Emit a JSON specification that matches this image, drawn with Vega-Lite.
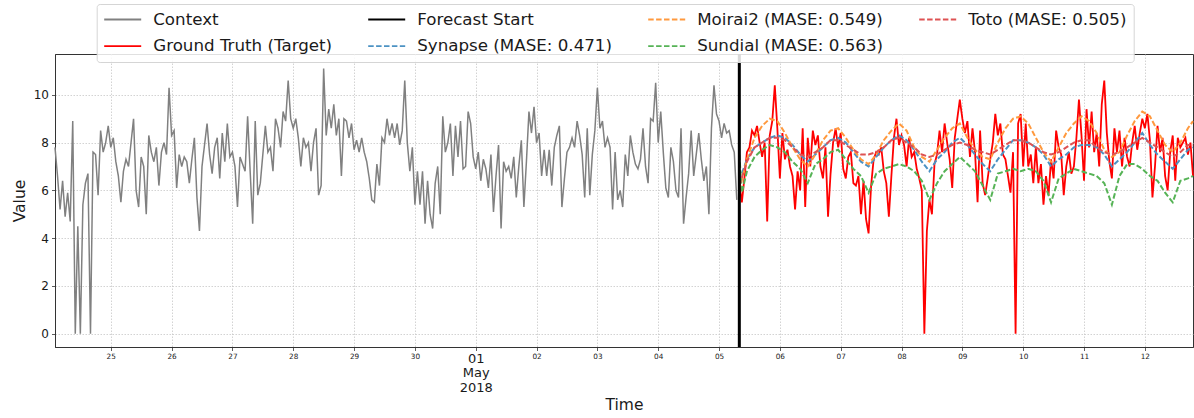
{
"$schema":"https://vega.github.io/schema/vega-lite/v6.json",
"width":1138,"height":293,
"autosize":{"type":"none"},
"padding":{"left":55,"top":54,"right":1,"bottom":71},
"config":{"font":"DejaVu Sans","view":{"stroke":"#333333","strokeWidth":1},
"axis":{"domainColor":"#333333","domainWidth":1,"tickColor":"#333333","tickWidth":0.8,"labelColor":"#1a1a1a","titleColor":"#1a1a1a","titleFontWeight":"normal","gridColor":"#c8c8c8","gridDash":[1.5,1.5],"gridWidth":0.8}},
"data":{"values":[
{"t":"2018-04-24T02:00","c":7.8},{"t":"2018-04-24T03:00","c":6.6},{"t":"2018-04-24T04:00","c":5.2},{"t":"2018-04-24T05:00","c":6.4},{"t":"2018-04-24T06:00","c":4.9},{"t":"2018-04-24T07:00","c":5.9},{"t":"2018-04-24T08:00","c":4.7},{"t":"2018-04-24T09:00","c":8.9},{"t":"2018-04-24T10:00","c":0},{"t":"2018-04-24T11:00","c":4.5},{"t":"2018-04-24T12:00","c":0},{"t":"2018-04-24T13:00","c":5.4},{"t":"2018-04-24T14:00","c":6.3},{"t":"2018-04-24T15:00","c":6.7},{"t":"2018-04-24T16:00","c":0},{"t":"2018-04-24T17:00","c":7.6},{"t":"2018-04-24T18:00","c":7.5},{"t":"2018-04-24T19:00","c":5.8},{"t":"2018-04-24T20:00","c":8.5},{"t":"2018-04-24T21:00","c":7.6},{"t":"2018-04-24T22:00","c":8.0},{"t":"2018-04-24T23:00","c":8.7},
{"t":"2018-04-25T00:00","c":7.8},{"t":"2018-04-25T01:00","c":8.2},{"t":"2018-04-25T02:00","c":7.2},{"t":"2018-04-25T03:00","c":6.6},{"t":"2018-04-25T04:00","c":5.5},{"t":"2018-04-25T05:00","c":6.8},{"t":"2018-04-25T06:00","c":7.3},{"t":"2018-04-25T07:00","c":7.0},{"t":"2018-04-25T08:00","c":8.0},{"t":"2018-04-25T09:00","c":9.0},{"t":"2018-04-25T10:00","c":6.0},{"t":"2018-04-25T11:00","c":5.3},{"t":"2018-04-25T12:00","c":7.4},{"t":"2018-04-25T13:00","c":7.0},{"t":"2018-04-25T14:00","c":5.0},{"t":"2018-04-25T15:00","c":8.3},{"t":"2018-04-25T16:00","c":7.6},{"t":"2018-04-25T17:00","c":7.2},{"t":"2018-04-25T18:00","c":7.8},{"t":"2018-04-25T19:00","c":6.2},{"t":"2018-04-25T20:00","c":7.6},{"t":"2018-04-25T21:00","c":8.0},{"t":"2018-04-25T22:00","c":7.5},{"t":"2018-04-25T23:00","c":10.3},
{"t":"2018-04-26T00:00","c":8.3},{"t":"2018-04-26T01:00","c":8.5},{"t":"2018-04-26T02:00","c":6.1},{"t":"2018-04-26T03:00","c":7.5},{"t":"2018-04-26T04:00","c":7.0},{"t":"2018-04-26T05:00","c":7.4},{"t":"2018-04-26T06:00","c":7.2},{"t":"2018-04-26T07:00","c":6.3},{"t":"2018-04-26T08:00","c":7.3},{"t":"2018-04-26T09:00","c":8.2},{"t":"2018-04-26T10:00","c":5.7},{"t":"2018-04-26T11:00","c":4.3},{"t":"2018-04-26T12:00","c":7.0},{"t":"2018-04-26T13:00","c":7.9},{"t":"2018-04-26T14:00","c":8.8},{"t":"2018-04-26T15:00","c":7.5},{"t":"2018-04-26T16:00","c":6.7},{"t":"2018-04-26T17:00","c":7.8},{"t":"2018-04-26T18:00","c":8.2},{"t":"2018-04-26T19:00","c":6.5},{"t":"2018-04-26T20:00","c":8.4},{"t":"2018-04-26T21:00","c":7.2},{"t":"2018-04-26T22:00","c":8.8},{"t":"2018-04-26T23:00","c":7.4},
{"t":"2018-04-27T00:00","c":7.6},{"t":"2018-04-27T01:00","c":7.0},{"t":"2018-04-27T02:00","c":5.3},{"t":"2018-04-27T03:00","c":7.4},{"t":"2018-04-27T04:00","c":7.1},{"t":"2018-04-27T05:00","c":6.8},{"t":"2018-04-27T06:00","c":9.1},{"t":"2018-04-27T07:00","c":6.8},{"t":"2018-04-27T08:00","c":4.6},{"t":"2018-04-27T09:00","c":8.9},{"t":"2018-04-27T10:00","c":5.8},{"t":"2018-04-27T11:00","c":6.3},{"t":"2018-04-27T12:00","c":7.5},{"t":"2018-04-27T13:00","c":8.7},{"t":"2018-04-27T14:00","c":7.6},{"t":"2018-04-27T15:00","c":7.8},{"t":"2018-04-27T16:00","c":6.8},{"t":"2018-04-27T17:00","c":9.0},{"t":"2018-04-27T18:00","c":8.6},{"t":"2018-04-27T19:00","c":7.8},{"t":"2018-04-27T20:00","c":9.3},{"t":"2018-04-27T21:00","c":8.9},{"t":"2018-04-27T22:00","c":10.6},{"t":"2018-04-27T23:00","c":9.0},
{"t":"2018-04-28T00:00","c":8.6},{"t":"2018-04-28T01:00","c":9.0},{"t":"2018-04-28T02:00","c":8.2},{"t":"2018-04-28T03:00","c":7.0},{"t":"2018-04-28T04:00","c":8.2},{"t":"2018-04-28T05:00","c":7.8},{"t":"2018-04-28T06:00","c":8.0},{"t":"2018-04-28T07:00","c":6.8},{"t":"2018-04-28T08:00","c":8.0},{"t":"2018-04-28T09:00","c":8.6},{"t":"2018-04-28T10:00","c":5.8},{"t":"2018-04-28T11:00","c":6.2},{"t":"2018-04-28T12:00","c":11.1},{"t":"2018-04-28T13:00","c":8.3},{"t":"2018-04-28T14:00","c":9.4},{"t":"2018-04-28T15:00","c":8.6},{"t":"2018-04-28T16:00","c":9.6},{"t":"2018-04-28T17:00","c":8.3},{"t":"2018-04-28T18:00","c":9.0},{"t":"2018-04-28T19:00","c":6.6},{"t":"2018-04-28T20:00","c":9.0},{"t":"2018-04-28T21:00","c":8.9},{"t":"2018-04-28T22:00","c":8.2},{"t":"2018-04-28T23:00","c":8.8},
{"t":"2018-04-29T00:00","c":7.7},{"t":"2018-04-29T01:00","c":8.1},{"t":"2018-04-29T02:00","c":7.6},{"t":"2018-04-29T03:00","c":8.2},{"t":"2018-04-29T04:00","c":7.6},{"t":"2018-04-29T05:00","c":7.2},{"t":"2018-04-29T06:00","c":6.5},{"t":"2018-04-29T07:00","c":5.6},{"t":"2018-04-29T08:00","c":5.5},{"t":"2018-04-29T09:00","c":7.1},{"t":"2018-04-29T10:00","c":6.2},{"t":"2018-04-29T11:00","c":8.2},{"t":"2018-04-29T12:00","c":8.0},{"t":"2018-04-29T13:00","c":9.0},{"t":"2018-04-29T14:00","c":8.3},{"t":"2018-04-29T15:00","c":8.8},{"t":"2018-04-29T16:00","c":8.2},{"t":"2018-04-29T17:00","c":8.8},{"t":"2018-04-29T18:00","c":7.9},{"t":"2018-04-29T19:00","c":8.5},{"t":"2018-04-29T20:00","c":10.6},{"t":"2018-04-29T21:00","c":8.0},{"t":"2018-04-29T22:00","c":6.8},{"t":"2018-04-29T23:00","c":7.8},
{"t":"2018-04-30T00:00","c":5.4},{"t":"2018-04-30T01:00","c":6.8},{"t":"2018-04-30T02:00","c":5.4},{"t":"2018-04-30T03:00","c":6.8},{"t":"2018-04-30T04:00","c":4.6},{"t":"2018-04-30T05:00","c":6.4},{"t":"2018-04-30T06:00","c":5.0},{"t":"2018-04-30T07:00","c":4.4},{"t":"2018-04-30T08:00","c":6.3},{"t":"2018-04-30T09:00","c":7.0},{"t":"2018-04-30T10:00","c":5.0},{"t":"2018-04-30T11:00","c":9.1},{"t":"2018-04-30T12:00","c":7.6},{"t":"2018-04-30T13:00","c":8.0},{"t":"2018-04-30T14:00","c":8.8},{"t":"2018-04-30T15:00","c":6.6},{"t":"2018-04-30T16:00","c":8.7},{"t":"2018-04-30T17:00","c":7.4},{"t":"2018-04-30T18:00","c":8.9},{"t":"2018-04-30T19:00","c":6.9},{"t":"2018-04-30T20:00","c":7.0},{"t":"2018-04-30T21:00","c":9.3},{"t":"2018-04-30T22:00","c":8.8},{"t":"2018-04-30T23:00","c":7.4},
{"t":"2018-05-01T00:00","c":6.9},{"t":"2018-05-01T01:00","c":7.6},{"t":"2018-05-01T02:00","c":6.4},{"t":"2018-05-01T03:00","c":7.3},{"t":"2018-05-01T04:00","c":6.9},{"t":"2018-05-01T05:00","c":6.1},{"t":"2018-05-01T06:00","c":7.5},{"t":"2018-05-01T07:00","c":5.1},{"t":"2018-05-01T08:00","c":6.6},{"t":"2018-05-01T09:00","c":7.9},{"t":"2018-05-01T10:00","c":4.4},{"t":"2018-05-01T11:00","c":7.2},{"t":"2018-05-01T12:00","c":6.8},{"t":"2018-05-01T13:00","c":7.0},{"t":"2018-05-01T14:00","c":6.5},{"t":"2018-05-01T15:00","c":7.4},{"t":"2018-05-01T16:00","c":5.7},{"t":"2018-05-01T17:00","c":7.0},{"t":"2018-05-01T18:00","c":8.1},{"t":"2018-05-01T19:00","c":5.3},{"t":"2018-05-01T20:00","c":7.2},{"t":"2018-05-01T21:00","c":9.3},{"t":"2018-05-01T22:00","c":8.4},{"t":"2018-05-01T23:00","c":9.5},
{"t":"2018-05-02T00:00","c":8.0},{"t":"2018-05-02T01:00","c":8.4},{"t":"2018-05-02T02:00","c":6.6},{"t":"2018-05-02T03:00","c":7.7},{"t":"2018-05-02T04:00","c":6.6},{"t":"2018-05-02T05:00","c":7.7},{"t":"2018-05-02T06:00","c":6.2},{"t":"2018-05-02T07:00","c":7.8},{"t":"2018-05-02T08:00","c":8.3},{"t":"2018-05-02T09:00","c":8.7},{"t":"2018-05-02T10:00","c":5.3},{"t":"2018-05-02T11:00","c":6.5},{"t":"2018-05-02T12:00","c":7.6},{"t":"2018-05-02T13:00","c":7.8},{"t":"2018-05-02T14:00","c":8.2},{"t":"2018-05-02T15:00","c":7.8},{"t":"2018-05-02T16:00","c":8.9},{"t":"2018-05-02T17:00","c":8.3},{"t":"2018-05-02T18:00","c":7.5},{"t":"2018-05-02T19:00","c":5.7},{"t":"2018-05-02T20:00","c":8.6},{"t":"2018-05-02T21:00","c":5.8},{"t":"2018-05-02T22:00","c":7.5},{"t":"2018-05-02T23:00","c":8.5},
{"t":"2018-05-03T00:00","c":10.3},{"t":"2018-05-03T01:00","c":8.6},{"t":"2018-05-03T02:00","c":8.9},{"t":"2018-05-03T03:00","c":7.8},{"t":"2018-05-03T04:00","c":8.2},{"t":"2018-05-03T05:00","c":7.8},{"t":"2018-05-03T06:00","c":5.2},{"t":"2018-05-03T07:00","c":7.6},{"t":"2018-05-03T08:00","c":5.6},{"t":"2018-05-03T09:00","c":6.0},{"t":"2018-05-03T10:00","c":5.3},{"t":"2018-05-03T11:00","c":7.5},{"t":"2018-05-03T12:00","c":6.6},{"t":"2018-05-03T13:00","c":8.3},{"t":"2018-05-03T14:00","c":7.6},{"t":"2018-05-03T15:00","c":7.1},{"t":"2018-05-03T16:00","c":6.9},{"t":"2018-05-03T17:00","c":7.3},{"t":"2018-05-03T18:00","c":8.6},{"t":"2018-05-03T19:00","c":7.0},{"t":"2018-05-03T20:00","c":6.3},{"t":"2018-05-03T21:00","c":9.0},{"t":"2018-05-03T22:00","c":8.9},{"t":"2018-05-03T23:00","c":10.5},
{"t":"2018-05-04T00:00","c":8.0},{"t":"2018-05-04T01:00","c":9.3},{"t":"2018-05-04T02:00","c":7.6},{"t":"2018-05-04T03:00","c":6.1},{"t":"2018-05-04T04:00","c":5.7},{"t":"2018-05-04T05:00","c":7.8},{"t":"2018-05-04T06:00","c":7.2},{"t":"2018-05-04T07:00","c":6.0},{"t":"2018-05-04T08:00","c":5.7},{"t":"2018-05-04T09:00","c":8.6},{"t":"2018-05-04T10:00","c":4.6},{"t":"2018-05-04T11:00","c":5.7},{"t":"2018-05-04T12:00","c":6.7},{"t":"2018-05-04T13:00","c":8.5},{"t":"2018-05-04T14:00","c":6.6},{"t":"2018-05-04T15:00","c":7.5},{"t":"2018-05-04T16:00","c":8.4},{"t":"2018-05-04T17:00","c":7.3},{"t":"2018-05-04T18:00","c":6.4},{"t":"2018-05-04T19:00","c":7.0},{"t":"2018-05-04T20:00","c":5.0},{"t":"2018-05-04T21:00","c":8.6},{"t":"2018-05-04T22:00","c":10.4},{"t":"2018-05-04T23:00","c":9.2},
{"t":"2018-05-05T00:00","c":8.9},{"t":"2018-05-05T01:00","c":8.2},{"t":"2018-05-05T02:00","c":8.8},{"t":"2018-05-05T03:00","c":8.4},{"t":"2018-05-05T04:00","c":8.5},{"t":"2018-05-05T05:00","c":7.9},{"t":"2018-05-05T06:00","c":7.6},{"t":"2018-05-05T07:00","c":5.6},
{"t":"2018-05-05T08:00","g":6.3,"s":6.4,"m":6.0,"d":7.5,"o":6.2},{"t":"2018-05-05T09:00","g":5.5,"d":5.9},{"t":"2018-05-05T10:00","g":6.5},{"t":"2018-05-05T11:00","g":7.6,"s":7.3,"m":7.3,"d":6.8,"o":7.2},{"t":"2018-05-05T12:00","g":7.8},{"t":"2018-05-05T13:00","g":8.5},{"t":"2018-05-05T14:00","g":8.3,"s":7.8,"m":8.2,"d":7.4,"o":7.8},{"t":"2018-05-05T15:00","g":8.7},{"t":"2018-05-05T16:00","g":8.0},{"t":"2018-05-05T17:00","g":7.4,"s":8.0,"m":8.7,"d":7.7,"o":8.0},{"t":"2018-05-05T18:00","g":8.0},{"t":"2018-05-05T19:00","g":4.7},{"t":"2018-05-05T20:00","g":8.3,"s":8.2,"m":9.0,"d":7.9,"o":8.2},{"t":"2018-05-05T21:00","g":8.9},{"t":"2018-05-05T22:00","g":10.4},{"t":"2018-05-05T23:00","g":8.6,"s":8.3,"m":8.9,"d":7.8,"o":8.2},
{"t":"2018-05-06T00:00","g":6.5},{"t":"2018-05-06T01:00","g":8.4},{"t":"2018-05-06T02:00","g":7.3,"s":8.2,"m":8.4,"d":7.6,"o":8.1},{"t":"2018-05-06T03:00","g":7.7},{"t":"2018-05-06T04:00","g":7.0},{"t":"2018-05-06T05:00","g":6.6,"s":7.9,"m":7.8,"d":7.2,"o":7.8},{"t":"2018-05-06T06:00","g":5.2},{"t":"2018-05-06T07:00","g":6.8},{"t":"2018-05-06T08:00","g":6.0,"s":7.5,"m":7.3,"d":6.9,"o":7.5},{"t":"2018-05-06T09:00","g":8.6},{"t":"2018-05-06T10:00","g":5.3},{"t":"2018-05-06T11:00","g":8.2,"s":7.2,"m":7.0,"d":6.3,"o":7.4},{"t":"2018-05-06T12:00","g":7.0},{"t":"2018-05-06T13:00","g":8.5},{"t":"2018-05-06T14:00","g":7.9,"s":7.5,"m":7.5,"d":7.1,"o":7.6},{"t":"2018-05-06T15:00","g":8.3},{"t":"2018-05-06T16:00","g":7.0},{"t":"2018-05-06T17:00","g":6.5,"s":7.8,"m":8.1,"d":7.3,"o":7.8},{"t":"2018-05-06T18:00","g":7.8},{"t":"2018-05-06T19:00","g":4.9},{"t":"2018-05-06T20:00","g":6.7,"s":8.1,"m":8.5,"d":7.6,"o":8.1},{"t":"2018-05-06T21:00","g":8.0},{"t":"2018-05-06T22:00","g":8.6},{"t":"2018-05-06T23:00","g":7.8,"s":8.2,"m":8.6,"d":7.7,"o":8.1},
{"t":"2018-05-07T00:00","g":8.4},{"t":"2018-05-07T01:00","g":6.9},{"t":"2018-05-07T02:00","g":6.5,"s":8.0,"m":8.2,"d":7.3,"o":7.9},{"t":"2018-05-07T03:00","g":7.4},{"t":"2018-05-07T04:00","g":7.6},{"t":"2018-05-07T05:00","g":6.3,"s":7.6,"m":7.7,"d":6.9,"o":7.7},{"t":"2018-05-07T06:00","g":6.2},{"t":"2018-05-07T07:00","g":6.6},{"t":"2018-05-07T08:00","g":5.0,"s":7.2,"m":7.3,"d":6.6,"o":7.5},{"t":"2018-05-07T09:00","g":6.4},{"t":"2018-05-07T10:00","g":4.8},{"t":"2018-05-07T11:00","g":4.2,"s":7.0,"m":7.1,"d":5.9,"o":7.5},{"t":"2018-05-07T12:00","g":6.2},{"t":"2018-05-07T13:00","g":7.3},{"t":"2018-05-07T14:00","g":7.6,"s":7.4,"m":7.5,"d":6.7,"o":7.6},{"t":"2018-05-07T15:00","g":7.5},{"t":"2018-05-07T16:00","g":7.8},{"t":"2018-05-07T17:00","g":6.8,"s":7.8,"m":8.1,"d":6.9,"o":7.8},{"t":"2018-05-07T18:00","g":6.3},{"t":"2018-05-07T19:00","g":4.9},{"t":"2018-05-07T20:00","g":6.6,"s":8.1,"m":8.5,"d":7.0,"o":8.1},{"t":"2018-05-07T21:00","g":8.2},{"t":"2018-05-07T22:00","g":9.0},{"t":"2018-05-07T23:00","g":7.9,"s":8.3,"m":8.8,"d":7.1,"o":8.2},
{"t":"2018-05-08T00:00","g":8.3},{"t":"2018-05-08T01:00","g":7.9},{"t":"2018-05-08T02:00","g":7.0,"s":8.1,"m":8.5,"d":7.0,"o":8.0},{"t":"2018-05-08T03:00","g":8.2},{"t":"2018-05-08T04:00","g":7.4},{"t":"2018-05-08T05:00","g":7.6,"s":7.7,"m":7.8,"d":6.8,"o":7.8},{"t":"2018-05-08T06:00","g":6.9},{"t":"2018-05-08T07:00","g":6.5},{"t":"2018-05-08T08:00","g":6.0,"s":7.2,"m":7.4,"d":6.4,"o":7.5},{"t":"2018-05-08T09:00","g":0.0},{"t":"2018-05-08T10:00","g":4.3},{"t":"2018-05-08T11:00","g":5.6,"s":6.8,"m":7.2,"d":5.6,"o":7.4},{"t":"2018-05-08T12:00","g":5.0},{"t":"2018-05-08T13:00","g":7.1},{"t":"2018-05-08T14:00","g":7.5,"s":7.3,"m":7.7,"d":6.3,"o":7.5},{"t":"2018-05-08T15:00","g":8.5},{"t":"2018-05-08T16:00","g":7.6},{"t":"2018-05-08T17:00","g":8.8,"s":7.6,"m":8.2,"d":6.8,"o":7.7},{"t":"2018-05-08T18:00","g":8.0},{"t":"2018-05-08T19:00","g":7.3},{"t":"2018-05-08T20:00","g":6.1,"s":8.0,"m":8.6,"d":7.1,"o":7.9},{"t":"2018-05-08T21:00","g":8.2},{"t":"2018-05-08T22:00","g":9.0},{"t":"2018-05-08T23:00","g":9.8,"s":8.2,"m":8.8,"d":7.4,"o":8.0},
{"t":"2018-05-09T00:00","g":9.0},{"t":"2018-05-09T01:00","g":8.4},{"t":"2018-05-09T02:00","g":8.9,"s":7.9,"m":8.2,"d":7.1,"o":7.9},{"t":"2018-05-09T03:00","g":7.4},{"t":"2018-05-09T04:00","g":8.6},{"t":"2018-05-09T05:00","g":7.6,"s":7.5,"m":7.7,"d":6.8,"o":7.7},{"t":"2018-05-09T06:00","g":5.5},{"t":"2018-05-09T07:00","g":8.5},{"t":"2018-05-09T08:00","g":6.3,"s":7.1,"m":7.4,"d":6.2,"o":7.6},{"t":"2018-05-09T09:00","g":5.8},{"t":"2018-05-09T10:00","g":6.5},{"t":"2018-05-09T11:00","g":7.3,"s":6.8,"m":7.3,"d":5.6,"o":7.5},{"t":"2018-05-09T12:00","g":8.0},{"t":"2018-05-09T13:00","g":9.2},{"t":"2018-05-09T14:00","g":8.3,"s":7.3,"m":8.0,"d":6.7,"o":7.7},{"t":"2018-05-09T15:00","g":8.8},{"t":"2018-05-09T16:00","g":7.5},{"t":"2018-05-09T17:00","g":7.3,"s":7.7,"m":8.6,"d":6.8,"o":7.9},{"t":"2018-05-09T18:00","g":6.6},{"t":"2018-05-09T19:00","g":5.9},{"t":"2018-05-09T20:00","g":7.6,"s":8.1,"m":9.0,"d":6.9,"o":8.1},{"t":"2018-05-09T21:00","g":0.0},{"t":"2018-05-09T22:00","g":8.8},{"t":"2018-05-09T23:00","g":9.2,"s":8.1,"m":9.1,"d":6.8,"o":8.1},
{"t":"2018-05-10T00:00","g":7.0},{"t":"2018-05-10T01:00","g":8.8},{"t":"2018-05-10T02:00","g":7.0,"s":8.0,"m":8.8,"d":6.9,"o":8.0},{"t":"2018-05-10T03:00","g":7.5},{"t":"2018-05-10T04:00","g":6.3},{"t":"2018-05-10T05:00","g":7.8,"s":7.8,"m":8.2,"d":6.8,"o":7.8},{"t":"2018-05-10T06:00","g":6.3},{"t":"2018-05-10T07:00","g":7.1},{"t":"2018-05-10T08:00","g":5.4,"s":7.5,"m":7.6,"d":6.4,"o":7.6},{"t":"2018-05-10T09:00","g":6.6},{"t":"2018-05-10T10:00","g":5.8},{"t":"2018-05-10T11:00","g":7.3,"s":7.0,"m":7.2,"d":5.5,"o":7.5},{"t":"2018-05-10T12:00","g":6.5},{"t":"2018-05-10T13:00","g":8.5},{"t":"2018-05-10T14:00","g":7.8,"s":7.3,"m":7.8,"d":6.5,"o":7.6},{"t":"2018-05-10T15:00","g":7.5},{"t":"2018-05-10T16:00","g":5.8},{"t":"2018-05-10T17:00","g":7.0,"s":7.5,"m":8.4,"d":6.7,"o":7.8},{"t":"2018-05-10T18:00","g":7.6},{"t":"2018-05-10T19:00","g":6.7},{"t":"2018-05-10T20:00","g":7.0,"s":7.8,"m":8.8,"d":6.9,"o":8.0},{"t":"2018-05-10T21:00","g":8.2},{"t":"2018-05-10T22:00","g":9.8},{"t":"2018-05-10T23:00","g":8.3,"s":7.9,"m":9.1,"d":6.8,"o":8.1},
{"t":"2018-05-11T00:00","g":6.4},{"t":"2018-05-11T01:00","g":9.4},{"t":"2018-05-11T02:00","g":7.8,"s":7.9,"m":8.9,"d":6.7,"o":8.1},{"t":"2018-05-11T03:00","g":9.3},{"t":"2018-05-11T04:00","g":7.6},{"t":"2018-05-11T05:00","g":8.4,"s":7.8,"m":8.4,"d":6.6,"o":7.8},{"t":"2018-05-11T06:00","g":7.0},{"t":"2018-05-11T07:00","g":9.6},{"t":"2018-05-11T08:00","g":10.6,"s":7.5,"m":7.7,"d":6.3,"o":7.6},{"t":"2018-05-11T09:00","g":8.4},{"t":"2018-05-11T10:00","g":7.2},{"t":"2018-05-11T11:00","g":6.5,"s":7.0,"m":7.4,"d":5.4,"o":7.5},{"t":"2018-05-11T12:00","g":8.6},{"t":"2018-05-11T13:00","g":7.6},{"t":"2018-05-11T14:00","g":8.5,"s":7.3,"m":7.6,"d":6.6,"o":7.6},{"t":"2018-05-11T15:00","g":7.0},{"t":"2018-05-11T16:00","g":8.2},{"t":"2018-05-11T17:00","g":7.4,"s":7.6,"m":8.3,"d":7.1,"o":7.8},{"t":"2018-05-11T18:00","g":7.0},{"t":"2018-05-11T19:00","g":8.0},{"t":"2018-05-11T20:00","g":8.7,"s":8.0,"m":8.9,"d":7.1,"o":8.0},{"t":"2018-05-11T21:00","g":7.7},{"t":"2018-05-11T22:00","g":8.4},{"t":"2018-05-11T23:00","g":9.0,"s":8.4,"m":9.3,"d":6.9,"o":8.2},
{"t":"2018-05-12T00:00","g":8.6},{"t":"2018-05-12T01:00","g":9.2},{"t":"2018-05-12T02:00","g":8.1,"s":7.9,"m":9.1,"d":6.6,"o":8.0},{"t":"2018-05-12T03:00","g":5.7},{"t":"2018-05-12T04:00","g":7.0},{"t":"2018-05-12T05:00","g":8.7,"s":7.5,"m":8.5,"d":6.4,"o":7.8},{"t":"2018-05-12T06:00","g":7.6},{"t":"2018-05-12T07:00","g":8.2},{"t":"2018-05-12T08:00","g":6.6,"s":7.2,"m":7.9,"d":5.9,"o":7.6},{"t":"2018-05-12T09:00","g":6.0},{"t":"2018-05-12T10:00","g":7.6},{"t":"2018-05-12T11:00","g":8.3,"s":6.9,"m":7.6,"d":5.5,"o":7.4},{"t":"2018-05-12T12:00","g":6.4},{"t":"2018-05-12T13:00","g":8.2},{"t":"2018-05-12T14:00","g":7.8,"s":7.3,"m":8.0,"d":6.4,"o":7.6},{"t":"2018-05-12T15:00","g":8.0},{"t":"2018-05-12T16:00","g":8.2},{"t":"2018-05-12T17:00","g":7.5,"s":7.7,"m":8.6,"d":6.5,"o":7.9},{"t":"2018-05-12T18:00","g":8.0},{"t":"2018-05-12T19:00","g":6.6,"s":7.8,"m":8.9,"d":6.6,"o":7.9}
]},
"encoding":{
"x":{"field":"t","type":"temporal","scale":{"domain":[{"year":2018,"month":4,"date":24,"hours":2},{"year":2018,"month":5,"date":12,"hours":19}]},
"axis":{"title":"Time","titleFontSize":15.5,"titlePadding":3,"tickCount":{"interval":"day","step":1},"tickSize":3.5,"labelPadding":1.5,"labelOverlap":false,"labelFlush":false,"labelLineHeight":14.7,
"labelExpr":"date(datum.value)==1 ? [timeFormat(datum.value,'%d'), timeFormat(datum.value,'%b'), timeFormat(datum.value,'%Y')] : timeFormat(datum.value,'%d')",
"labelFontSize":{"condition":{"test":"date(datum.value)==1","value":13},"value":7.3}}},
"y":{"field":"v","type":"quantitative","scale":{"domain":[-0.56,11.71],"nice":false,"zero":false},
"axis":{"title":"Value","titleFontSize":15.5,"titlePadding":6,"values":[0,2,4,6,8,10],"labelFontSize":12,"tickSize":3.5,"labelPadding":3}},
"color":{"field":"k","type":"nominal","scale":{"domain":["c","fs","m","o","g","s","d"],"range":["#808080","#000000","#ff993e","#de5253","#ff0000","#4c92c3","#56b356"]},
"legend":{"orient":"none","legendX":41.7,"legendY":-50,"direction":"horizontal","columns":4,"title":null,"symbolType":"stroke","symbolSize":1369,"symbolStrokeWidth":1.8,"clipHeight":18,"labelFontSize":16.7,"labelColor":"#1a1a1a","labelLimit":400,"labelOffset":11,"columnPadding":35,"rowPadding":8.7,"padding":6.5,"fillColor":"rgba(255,255,255,0.85)","strokeColor":"#d5d5d5","cornerRadius":3,
"labelExpr":"datum.label=='c'?'Context':datum.label=='g'?'Ground Truth (Target)':datum.label=='fs'?'Forecast Start':datum.label=='s'?'Synapse (MASE: 0.471)':datum.label=='m'?'Moirai2 (MASE: 0.549)':datum.label=='d'?'Sundial (MASE: 0.563)':'Toto (MASE: 0.505)'"}},
"strokeDash":{"field":"k","type":"nominal","scale":{"domain":["c","fs","m","o","g","s","d"],"range":[[1,0],[1,0],[5.5,2.4],[5.5,2.4],[1,0],[5.5,2.4],[5.5,2.4]]}}
},
"layer":[
{"transform":[{"fold":["c"],"as":["k","v"]},{"filter":"isValid(datum.v)"}],"mark":{"type":"line","strokeWidth":1.5}},
{"transform":[{"fold":["g"],"as":["k","v"]},{"filter":"isValid(datum.v)"}],"mark":{"type":"line","strokeWidth":1.8}},
{"transform":[{"fold":["s","m","d","o"],"as":["k","v"]},{"filter":"isValid(datum.v)"}],"mark":{"type":"line","strokeWidth":2}},
{"data":{"values":[{"t":"2018-05-05T08:00","k":"fs"}]},"mark":{"type":"rule","strokeWidth":3},"encoding":{"y":null}}
]
}
